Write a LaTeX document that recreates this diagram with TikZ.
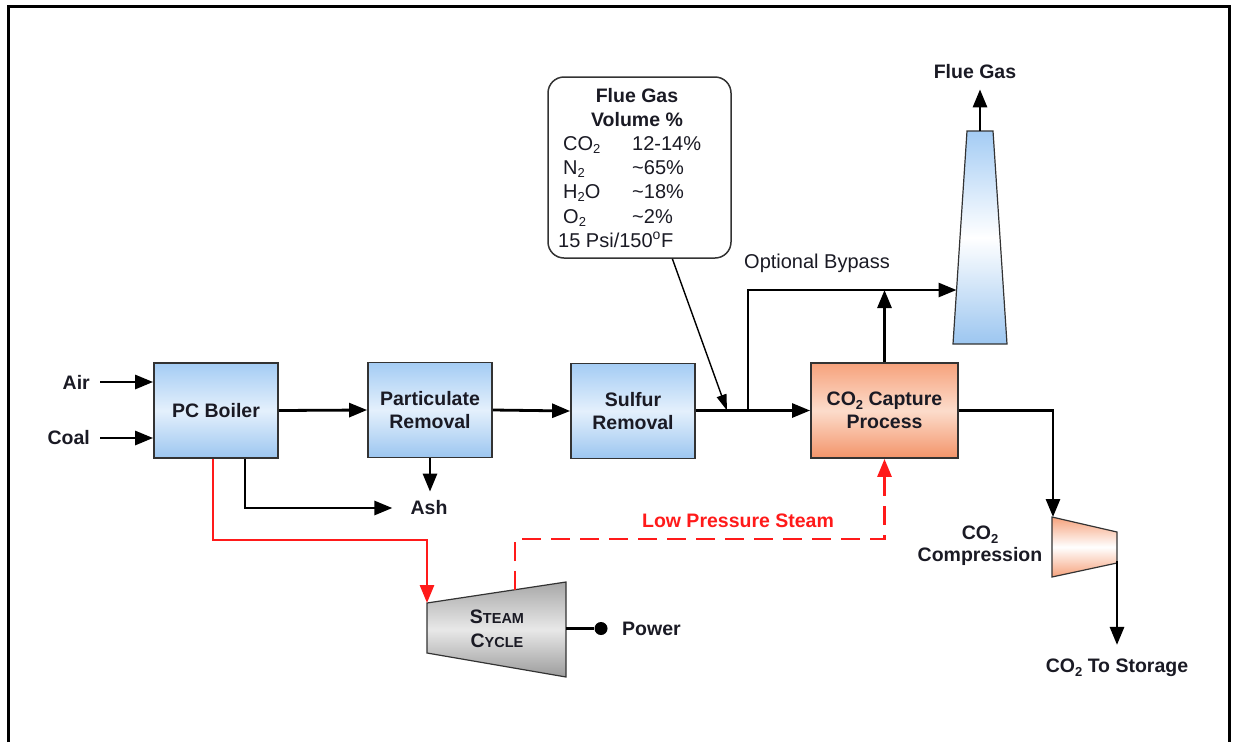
\documentclass[tikz,border=0pt]{standalone}
\usepackage{fontspec}
\setmainfont{Liberation Sans}
\usetikzlibrary{arrows.meta,calc}
\newcommand\subtwo{\raisebox{-0.35ex}{\fontsize{13}{13}\selectfont 2}}
\definecolor{txt}{HTML}{1A1A24}
\definecolor{boxline}{HTML}{333333}
\definecolor{bluetop}{HTML}{A4CCF4}
\definecolor{bluemid}{HTML}{E4F0FC}
\definecolor{bluebot}{HTML}{9CC6F0}
\definecolor{orgtop}{HTML}{F6A27C}
\definecolor{orgmid}{HTML}{FCDCCB}
\definecolor{orgbot}{HTML}{F3946A}
\definecolor{graytop}{HTML}{A8A8A8}
\definecolor{graymid}{HTML}{E8E8E8}
\definecolor{graybot}{HTML}{9C9C9C}
\definecolor{steamred}{HTML}{FF1A1A}
\begin{document}
\begin{tikzpicture}[x=1pt,y=-1pt,
  lbl/.style={font=\fontsize{19.5}{23}\selectfont\bfseries, text=txt, align=center, inner sep=0pt},
  reg/.style={font=\fontsize{20}{24}\selectfont, text=txt, inner sep=0pt},
  proc/.style={draw=boxline, line width=1.8pt, minimum width=124pt, minimum height=95pt,
     font=\fontsize{19.5}{23}\selectfont\bfseries, text=txt, align=center,
     top color=bluetop, bottom color=bluebot, middle color=bluemid},
  flow/.style={line width=2.8pt, draw=black, -{Triangle[length=18pt,width=14pt]}},
  redflow/.style={line width=2.8pt, draw=steamred, -{Triangle[length=18pt,width=14pt]}},
  shapeline/.style={draw=boxline, line width=1.2pt}
]
\useasboundingbox (0,0) rectangle (1234,742);
% frame
\draw[line width=3pt] (8,742) -- (8,6) -- (1229,6) -- (1229,742);

% process boxes
\node[proc] (boiler) at (216,410.5) {PC Boiler};
\node[proc] (part) at (430,410) {Particulate\\Removal};
\node[proc] (sulfur) at (633,411) {Sulfur\\Removal};
\node[proc, minimum width=147pt, top color=orgtop, bottom color=orgbot, middle color=orgmid] (capture) at (884.5,410.5) {CO\subtwo{} Capture\\Process};

% inputs
\node[lbl, anchor=east] (air) at (90,382) {Air};
\node[lbl, anchor=east] (coal) at (90,438) {Coal};
\draw[flow] ([xshift=10pt]air.east) -- (air.east -| boiler.west);
\draw[flow] ([xshift=10pt]coal.east) -- (coal.east -| boiler.west);

% main chain
\draw[flow] (boiler.east) -- (part.west);
\draw[flow] (part.east) -- (sulfur.west);
\coordinate (tip) at (727,410.5);
\coordinate (j1) at (748,410.5);
\draw[flow] (sulfur.east |- tip) -- (capture.west);

% ash
\node[lbl] (ash) at (429,508) {Ash};
\draw[flow] ([xshift=29pt]boiler.south) |- ([xshift=-18pt]ash.west);
\draw[flow] (part.south) -- ([yshift=9pt]part.south |- ash.north);

% stack
\coordinate (stacktop) at (980,131);
\coordinate (stackin) at (956.5,290);
\shade[shapeline, top color=bluetop, bottom color=bluebot, middle color=white] (967,131) -- (993,131) -- (1007,344) -- (953,344) -- cycle;
\node[lbl] (fluegas) at (975,72) {Flue Gas};
\draw[flow] (stacktop) -- ([yshift=-10pt]fluegas.south -| stacktop);

% bypass
\node[reg] (bypass) at (817,263) {Optional Bypass};
\draw[flow] (j1) |- (stackin);
\draw[flow] (capture.north) -- (capture.north |- stackin);

% callout
\node[draw=boxline, line width=1.5pt, rounded corners=16pt, minimum width=183pt, minimum height=181pt, fill=white] (callout) at (639.5,167.5) {};
\node[lbl, anchor=base] (fg1) at (637,102) {Flue Gas};
\node[lbl, anchor=base] (fg2) at (637,126) {Volume \%};
\node[reg, anchor=base west] (r1a) at (563,150) {CO\subtwo};
\node[reg, anchor=base west] (r1b) at (632,150) {12-14\%};
\node[reg, anchor=base west] (r2a) at (563,174) {N\subtwo};
\node[reg, anchor=base west] (r2b) at (632,174) {\textasciitilde65\%};
\node[reg, anchor=base west] (r3a) at (563,198) {H\subtwo O};
\node[reg, anchor=base west] (r3b) at (632,198) {\textasciitilde18\%};
\node[reg, anchor=base west] (r4a) at (563,223) {O\subtwo};
\node[reg, anchor=base west] (r4b) at (632,223) {\textasciitilde2\%};
\node[reg, anchor=base west] (r5a) at (558,247) {15 Psi/150\textsuperscript{o}F};
\draw[line width=1.4pt, -{Triangle[length=16pt,width=10pt]}] ($(callout.south west)!0.678!(callout.south east)$) -- (tip);

% steam cycle
\coordinate (stl) at (427,603);
\coordinate (stsub) at (515,590);
\coordinate (stout) at (566,628.5);
\shade[shapeline, top color=graytop, bottom color=graybot, middle color=graymid] (427,603) -- (566,582) -- (566,677) -- (427,653) -- cycle;
\node[lbl, font=\fontsize{19.5}{24}\selectfont\bfseries] (steam) at (497,629) {S{\fontsize{14.5}{17}\selectfont TEAM}\\C{\fontsize{14.5}{17}\selectfont YCLE}};
\coordinate (r1) at (213,540);
\draw[redflow] ([xshift=-3pt]boiler.south) -- (r1) -| (stl);
\draw[redflow, dash pattern=on 19pt off 10pt] (stsub) -- (515,539) -| (capture.south);
\node[lbl, text=steamred] (lps) at (738,521) {Low Pressure Steam};

% power
\node[circle, fill=black, inner sep=0pt, minimum size=13pt] (pdot) at (601,628.5) {};
\draw[line width=2.6pt] (stout) -- (pdot);
\node[lbl, anchor=west] (power) at (622,628.5) {Power};

% compression
\coordinate (comptop) at (1053,517);
\coordinate (compout) at (1117,561);
\shade[shapeline, top color=orgtop, bottom color=orgtop, middle color=white] (1052,517) -- (1117,532) -- (1117,563) -- (1052,577) -- cycle;
\node[lbl, font=\fontsize{19.5}{22}\selectfont\bfseries] (comp) at (980,546) {CO\subtwo\\Compression};
\draw[flow] (capture.east) -| (comptop);
\node[lbl] (storage) at (1117,668) {CO\subtwo{} To Storage};
\draw[flow] (compout) -- ([yshift=14pt]storage.north -| compout);
\end{tikzpicture}
\end{document}
